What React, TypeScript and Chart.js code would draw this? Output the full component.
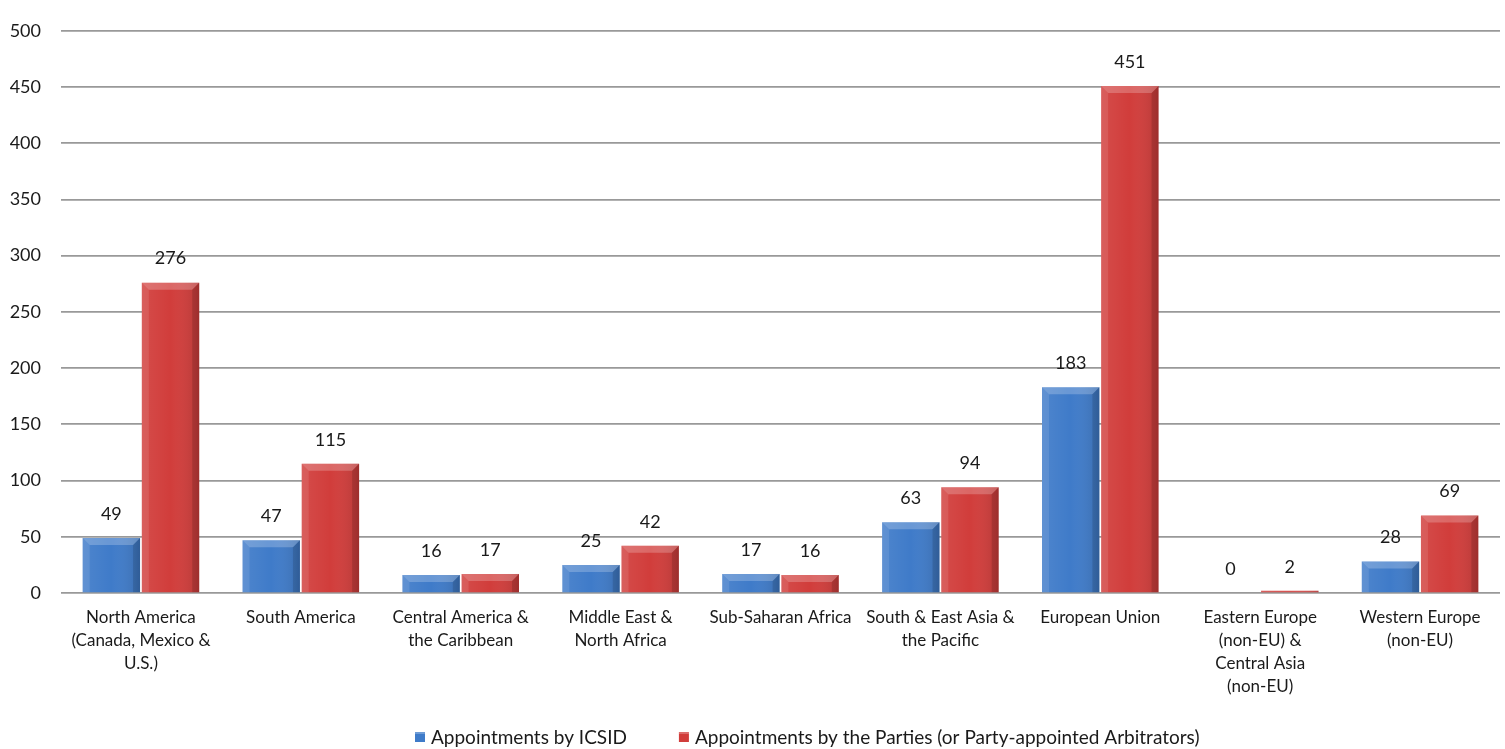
import React, { useEffect, useRef } from "react";
import { Chart, registerables } from "chart.js";

Chart.register(...registerables);

const categories: string[][] = [
  ["North America", "(Canada, Mexico &", "U.S.)"],
  ["South America"],
  ["Central America &", "the Caribbean"],
  ["Middle East &", "North Africa"],
  ["Sub-Saharan Africa"],
  ["South & East Asia &", "the Pacific"],
  ["European Union"],
  ["Eastern Europe", "(non-EU) &", "Central Asia", "(non-EU)"],
  ["Western Europe", "(non-EU)"],
];

const icsidValues: number[] = [49, 47, 16, 25, 17, 63, 183, 0, 28];
const partiesValues: number[] = [276, 115, 17, 42, 16, 94, 451, 2, 69];

const seriesNames: string[] = [
  "Appointments by ICSID",
  "Appointments by the Parties (or Party-appointed Arbitrators)",
];

const yTicks: number[] = [0, 50, 100, 150, 200, 250, 300, 350, 400, 450, 500];

const FONT = "Lato, 'Open Sans', sans-serif";
const BLUE = "#3f7bc9";
const RED = "#d13d3b";
const TEXT = "#1a1a1a";

const bevelPlugin = {
  id: "bevel",
  afterDatasetsDraw(chart: any) {
    const ctx = chart.ctx;
    chart.data.datasets.forEach((_ds: any, di: number) => {
      const meta = chart.getDatasetMeta(di);
      meta.data.forEach((el: any) => {
        const p = el.getProps(["x", "y", "base", "width"], true);
        const left = p.x - p.width / 2;
        const right = p.x + p.width / 2;
        const top = Math.min(p.y, p.base);
        const bottom = Math.max(p.y, p.base);
        const h = bottom - top;
        if (h < 1) return;
        const b = Math.min(7, h / 2, p.width / 4);
        ctx.save();
        const g = ctx.createLinearGradient(left, 0, right, 0);
        g.addColorStop(0, "rgba(255,255,255,0.08)");
        g.addColorStop(0.5, "rgba(255,255,255,0.0)");
        g.addColorStop(1, "rgba(0,0,0,0.14)");
        ctx.fillStyle = g;
        ctx.fillRect(left, top, right - left, h);
        ctx.fillStyle = "rgba(255,255,255,0.22)";
        ctx.beginPath();
        ctx.moveTo(left, top);
        ctx.lineTo(right, top);
        ctx.lineTo(right - b, top + b);
        ctx.lineTo(left + b, top + b);
        ctx.closePath();
        ctx.fill();
        ctx.fillStyle = "rgba(255,255,255,0.10)";
        ctx.beginPath();
        ctx.moveTo(left, top);
        ctx.lineTo(left + b, top + b);
        ctx.lineTo(left + b, bottom);
        ctx.lineTo(left, bottom);
        ctx.closePath();
        ctx.fill();
        ctx.fillStyle = "rgba(0,0,0,0.12)";
        ctx.beginPath();
        ctx.moveTo(right, top);
        ctx.lineTo(right - b, top + b);
        ctx.lineTo(right - b, bottom);
        ctx.lineTo(right, bottom);
        ctx.closePath();
        ctx.fill();
        ctx.restore();
      });
    });
  },
};

const valueLabelPlugin = {
  id: "valueLabels",
  afterDatasetsDraw(chart: any) {
    const ctx = chart.ctx;
    ctx.save();
    ctx.font = `18px ${FONT}`;
    ctx.fillStyle = TEXT;
    ctx.textAlign = "center";
    ctx.textBaseline = "middle";
    chart.data.datasets.forEach((ds: any, di: number) => {
      const meta = chart.getDatasetMeta(di);
      meta.data.forEach((el: any, i: number) => {
        const p = el.getProps(["x", "y"], true);
        ctx.fillText(String(ds.data[i]), p.x, p.y - 24);
      });
    });
    ctx.restore();
  },
};

const customLegendPlugin = {
  id: "customLegend",
  afterDraw(chart: any) {
    const ctx = chart.ctx;
    ctx.save();
    ctx.font = `19px ${FONT}`;
    ctx.textBaseline = "middle";
    ctx.textAlign = "left";
    const box = 10;
    const gap = 6;
    const spacing = 52;
    const colors = [BLUE, RED];
    const widths = seriesNames.map((s) => ctx.measureText(s).width);
    let x = 415;
    const y = 737;
    seriesNames.forEach((s, i) => {
      ctx.fillStyle = colors[i];
      ctx.fillRect(x, y - box / 2, box, box);
      ctx.fillStyle = "rgba(255,255,255,0.25)";
      ctx.fillRect(x, y - box / 2, box, 2);
      ctx.fillStyle = TEXT;
      ctx.fillText(s, x + box + gap, y + 1);
      x += box + gap + widths[i] + spacing;
    });
    ctx.restore();
  },
};

export default function App() {
  const canvasRef = useRef<HTMLCanvasElement | null>(null);

  useEffect(() => {
    if (!canvasRef.current) return;
    const chart = new Chart(canvasRef.current, {
      type: "bar",
      data: {
        labels: categories,
        datasets: [
          { label: seriesNames[0], data: icsidValues, backgroundColor: BLUE, borderWidth: 0 },
          { label: seriesNames[1], data: partiesValues, backgroundColor: RED, borderWidth: 0 },
        ],
      },
      options: {
        animation: false,
        responsive: true,
        maintainAspectRatio: false,
        layout: { autoPadding: false, padding: { top: 19, right: 5, bottom: 40, left: 0 } },
        datasets: {
          bar: { categoryPercentage: 0.74, barPercentage: 0.97 },
        },
        plugins: {
          legend: { display: false },
          tooltip: { enabled: false },
        },
        scales: {
          x: {
            grid: { display: false, drawTicks: false },
            border: { display: false },
            ticks: {
              color: TEXT,
              font: { family: FONT, size: 17, lineHeight: "23px" },
              padding: 13,
              maxRotation: 0,
              minRotation: 0,
              autoSkip: false,
            },
            afterFit(scale: any) {
              scale.height = 116;
            },
          },
          y: {
            min: 0,
            max: 500,
            afterBuildTicks(scale: any) {
              scale.ticks = yTicks.map((v) => ({ value: v }));
            },
            grid: { color: "#999999", lineWidth: 1.75, drawTicks: false },
            border: { display: false },
            ticks: {
              color: TEXT,
              font: { family: FONT, size: 18 },
              padding: 20,
            },
            afterFit(scale: any) {
              scale.width = 61;
            },
          },
        },
      },
      plugins: [bevelPlugin, valueLabelPlugin, customLegendPlugin],
    });
    return () => chart.destroy();
  }, []);

  return (
    <div
      style={{
        position: "fixed",
        left: 0,
        top: 0,
        width: 1505,
        height: 749,
        background: "#ffffff",
      }}
    >
      <canvas ref={canvasRef} />
    </div>
  );
}
